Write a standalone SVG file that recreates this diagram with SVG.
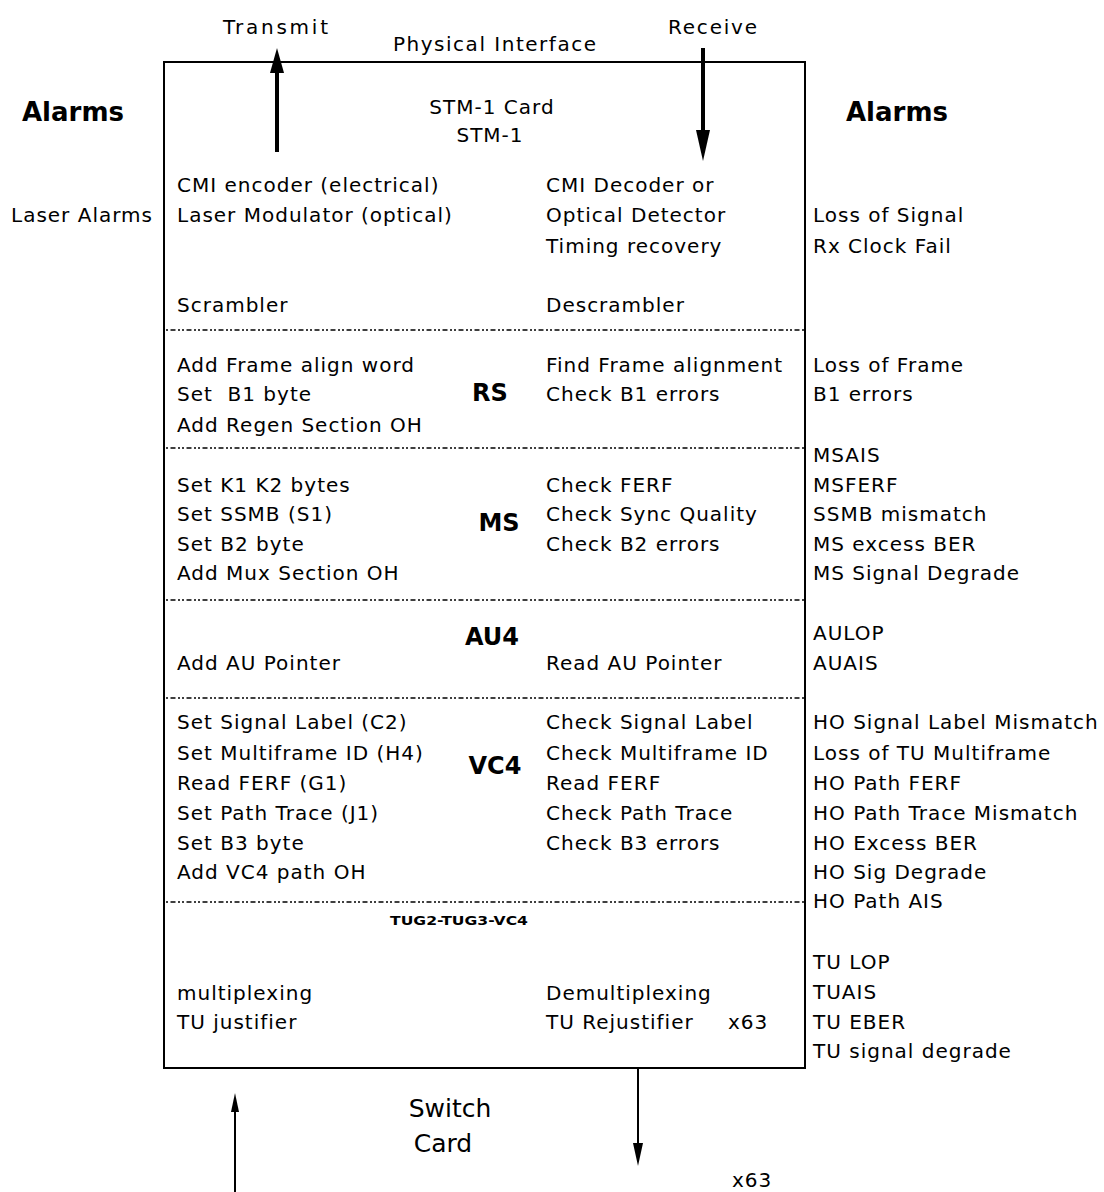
<svg xmlns="http://www.w3.org/2000/svg" width="1104" height="1192" viewBox="0 0 1104 1192">
<style>
  text { font-family: "DejaVu Sans", "Liberation Sans", sans-serif; fill: #000; }
  .t { font-size: 20px; letter-spacing: 1px; }
  .h { font-size: 26px; font-weight: bold; }
  .s { font-size: 24px; font-weight: bold; text-anchor: middle; }
  .c { text-anchor: middle; }
  .big { font-size: 25px; text-anchor: middle; }
  .sep { stroke: #000; stroke-width: 1.6; stroke-dasharray: 2 2.5 5 2.5 2 2; fill: none; }
  .line { stroke: #000; fill: none; }
</style>
<rect width="1104" height="1192" fill="#fff"/>

<g id="card">
  <rect x="164" y="62" width="641" height="1006" fill="none" stroke="#000" stroke-width="2"/>
  <text class="t c" x="492" y="114">STM-1 Card</text>
  <text class="t c" x="490" y="142">STM-1</text>
</g>

<g id="separators">
  <line class="sep" x1="166" y1="330" x2="804" y2="330"/>
  <line class="sep" x1="166" y1="448" x2="804" y2="448"/>
  <line class="sep" x1="166" y1="600" x2="804" y2="600"/>
  <line class="sep" x1="166" y1="698" x2="804" y2="698"/>
  <line class="sep" x1="166" y1="902" x2="804" y2="902"/>
</g>

<g id="labels-top">
  <text class="t" x="223" y="34" textLength="106">Transmit</text>
  <text class="t" x="393" y="51" textLength="204">Physical Interface</text>
  <text class="t" x="668" y="34" textLength="90">Receive</text>
  <text class="h" x="22" y="121">Alarms</text>
  <text class="h" x="846" y="121">Alarms</text>
  <text class="t" x="11" y="222">Laser Alarms</text>
</g>

<g id="physical">
  <text class="t" x="177" y="192">CMI encoder (electrical)</text>
  <text class="t" x="177" y="222">Laser Modulator (optical)</text>
  <text class="t" x="177" y="312">Scrambler</text>
  <text class="t" x="546" y="192">CMI Decoder or</text>
  <text class="t" x="546" y="222">Optical Detector</text>
  <text class="t" x="546" y="253">Timing recovery</text>
  <text class="t" x="546" y="312">Descrambler</text>
  <text class="t" x="813" y="222">Loss of Signal</text>
  <text class="t" x="813" y="253">Rx Clock Fail</text>
</g>

<g id="rs">
  <text class="t" x="177" y="372">Add Frame align word</text>
  <text class="t" x="177" y="401" xml:space="preserve">Set  B1 byte</text>
  <text class="t" x="177" y="432">Add Regen Section OH</text>
  <text class="s" x="490" y="401">RS</text>
  <text class="t" x="546" y="372">Find Frame alignment</text>
  <text class="t" x="546" y="401">Check B1 errors</text>
  <text class="t" x="813" y="372">Loss of Frame</text>
  <text class="t" x="813" y="401">B1 errors</text>
</g>

<g id="ms">
  <text class="t" x="813" y="462">MSAIS</text>
  <text class="t" x="813" y="492">MSFERF</text>
  <text class="t" x="813" y="521">SSMB mismatch</text>
  <text class="t" x="813" y="551">MS excess BER</text>
  <text class="t" x="813" y="580">MS Signal Degrade</text>
  <text class="t" x="177" y="492">Set K1 K2 bytes</text>
  <text class="t" x="177" y="521">Set SSMB (S1)</text>
  <text class="t" x="177" y="551">Set B2 byte</text>
  <text class="t" x="177" y="580">Add Mux Section OH</text>
  <text class="s" x="499" y="531">MS</text>
  <text class="t" x="546" y="492">Check FERF</text>
  <text class="t" x="546" y="521">Check Sync Quality</text>
  <text class="t" x="546" y="551">Check B2 errors</text>
</g>

<g id="au4">
  <text class="s" x="492" y="645">AU4</text>
  <text class="t" x="177" y="670">Add AU Pointer</text>
  <text class="t" x="546" y="670">Read AU Pointer</text>
  <text class="t" x="813" y="640">AULOP</text>
  <text class="t" x="813" y="670">AUAIS</text>
</g>

<g id="vc4">
  <text class="t" x="177" y="729">Set Signal Label (C2)</text>
  <text class="t" x="177" y="760">Set Multiframe ID (H4)</text>
  <text class="t" x="177" y="790">Read FERF (G1)</text>
  <text class="t" x="177" y="820">Set Path Trace (J1)</text>
  <text class="t" x="177" y="850">Set B3 byte</text>
  <text class="t" x="177" y="879">Add VC4 path OH</text>
  <text class="s" x="495" y="774">VC4</text>
  <text class="t" x="546" y="729">Check Signal Label</text>
  <text class="t" x="546" y="760">Check Multiframe ID</text>
  <text class="t" x="546" y="790">Read FERF</text>
  <text class="t" x="546" y="820">Check Path Trace</text>
  <text class="t" x="546" y="850">Check B3 errors</text>
  <text class="t" x="813" y="729">HO Signal Label Mismatch</text>
  <text class="t" x="813" y="760">Loss of TU Multiframe</text>
  <text class="t" x="813" y="790">HO Path FERF</text>
  <text class="t" x="813" y="820">HO Path Trace Mismatch</text>
  <text class="t" x="813" y="850">HO Excess BER</text>
  <text class="t" x="813" y="879">HO Sig Degrade</text>
  <text class="t" x="813" y="908">HO Path AIS</text>
</g>

<g id="tu">
  <text x="390" y="925" font-size="13" font-weight="bold" textLength="138" lengthAdjust="spacingAndGlyphs">TUG2-TUG3-VC4</text>
  <text class="t" x="177" y="1000">multiplexing</text>
  <text class="t" x="177" y="1029">TU justifier</text>
  <text class="t" x="546" y="1000">Demultiplexing</text>
  <text class="t" x="546" y="1029">TU Rejustifier</text>
  <text class="t" x="728" y="1029">x63</text>
  <text class="t" x="813" y="969">TU LOP</text>
  <text class="t" x="813" y="999">TUAIS</text>
  <text class="t" x="813" y="1029">TU EBER</text>
  <text class="t" x="813" y="1058">TU signal degrade</text>
</g>

<g id="switch">
  <text class="big" x="450" y="1117">Switch</text>
  <text class="big" x="443" y="1152">Card</text>
  <text class="t" x="732" y="1187">x63</text>
</g>

<g id="connectors">
  <line class="line" x1="277" y1="152" x2="277" y2="70" stroke-width="4"/>
  <polygon points="277,48 270,73 284,73"/>
  <line class="line" x1="703" y1="48" x2="703" y2="135" stroke-width="4"/>
  <polygon points="703,161 696,130 710,130"/>
  <line class="line" x1="235" y1="1192" x2="235" y2="1108" stroke-width="2"/>
  <polygon points="235,1093 231,1112 239,1112"/>
  <line class="line" x1="638" y1="1068" x2="638" y2="1148" stroke-width="2"/>
  <polygon points="638,1166 633,1143 643,1143"/>
</g>
</svg>
